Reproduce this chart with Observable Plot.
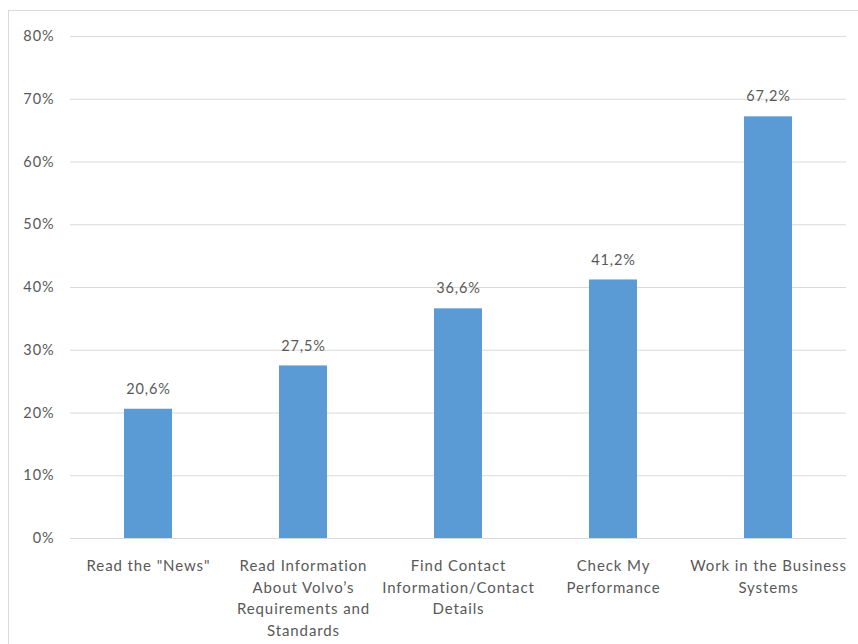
<!DOCTYPE html>
<html>
<head>
<meta charset="utf-8">
<script src="https://cdn.jsdelivr.net/npm/d3@7"></script>
<script src="https://cdn.jsdelivr.net/npm/@observablehq/plot@0.6"></script>
<style>
  html, body { margin: 0; padding: 0; background: #fff; }
  #wrap { position: relative; width: 858px; height: 644px; overflow: hidden; }
  #frame { position: absolute; left: 8px; top: 10px; width: 900px; height: 700px; border: 1px solid #d9d9d9; box-sizing: border-box; pointer-events: none; }
  #chart { position: absolute; left: 0; top: 0; }
  #chart svg text { letter-spacing: 0.9px; }
</style>
</head>
<body>
<div id="wrap">
  <div id="frame"></div>
  <div id="chart"></div>
</div>
<script>
// Survey answers: share of respondents per activity
const categories = [
  "Read the \"News\"",
  "Read Information About Volvo’s Requirements and Standards",
  "Find Contact Information/Contact Details",
  "Check My Performance",
  "Work in the Business Systems"
];
const tickLabels = [
  "Read the \"News\"",
  "Read Information\nAbout Volvo’s\nRequirements and\nStandards",
  "Find Contact\nInformation/Contact\nDetails",
  "Check My\nPerformance",
  "Work in the Business\nSystems"
];
const values = [0.206, 0.275, 0.366, 0.412, 0.672];
const yTicks = [0, 0.1, 0.2, 0.3, 0.4, 0.5, 0.6, 0.7, 0.8];

const data = categories.map((c, i) => ({category: c, label: tickLabels[i], value: values[i]}));
const labelOf = new Map(data.map(d => [d.category, d.label]));
const pct = v => Math.round(v * 100) + "%";
const pctComma = v => (v * 100).toFixed(1).replace(".", ",") + "%";

const grey = "#595959";
const font = "Lato, 'Open Sans', sans-serif";

const chart = Plot.plot({
  width: 858,
  height: 644,
  marginLeft: 70,
  marginRight: 12,
  marginTop: 36,
  marginBottom: 106,
  style: {fontFamily: font, background: "transparent", color: grey},
  x: {domain: categories, paddingInner: 0.69, paddingOuter: 0.345},
  y: {domain: [0, 0.8]},
  marks: [
    Plot.gridY(yTicks, {stroke: "#d9d9d9", strokeOpacity: 1}),
    Plot.axisY(yTicks, {tickSize: 0, tickPadding: 16, tickFormat: pct, fontSize: 14.5, fill: grey, label: null}),
    Plot.barY(data, {x: "category", y: "value", fill: "#5b9bd5"}),
    Plot.ruleY([0], {stroke: "#d9d9d9"}),
    Plot.text(data, {x: "category", y: "value", text: d => pctComma(d.value), dy: -20, fontSize: 14.5, fill: grey}),
    Plot.axisX({tickSize: 0, tickPadding: 17, tickFormat: d => labelOf.get(d), lineHeight: 1.45, fontSize: 15, fill: grey, label: null})
  ]
});
document.getElementById("chart").appendChild(chart);
</script>
</body>
</html>
